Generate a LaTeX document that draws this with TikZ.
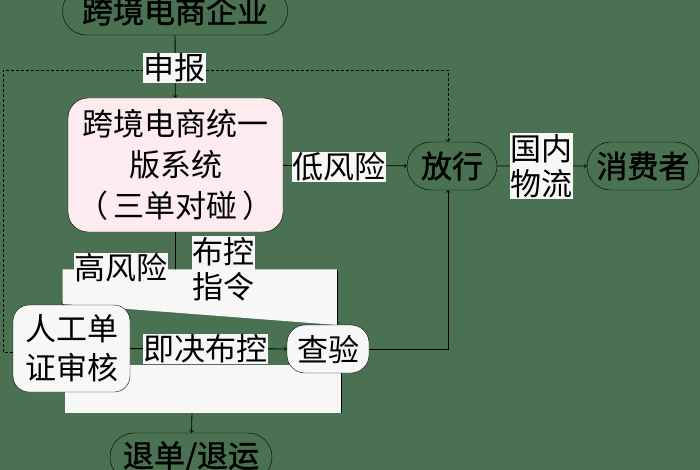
\documentclass[tikz,border=0pt]{standalone}
\usepackage{fontspec}
\setmainfont{Noto Sans CJK SC}
\newfontfamily\termfont{Noto Sans CJK SC}[FakeBold=1.3]
\usetikzlibrary{shapes.misc,backgrounds}
\definecolor{bggreen}{RGB}{74,113,81}
\definecolor{syspink}{RGB}{253,235,239}
\definecolor{paper}{RGB}{247,247,247}
\tikzset{
  term/.style={draw, rounded rectangle, minimum height=48pt, inner sep=0pt, font=\fontsize{31}{35}\termfont},
  box/.style={draw, rectangle, rounded corners=16pt, fill=paper, inner sep=0pt, align=center},
  lbl/.style={fill=paper, inner xsep=0.5pt, inner ysep=1pt, align=center, font=\fontsize{31}{35}\selectfont},
  link/.style={draw, line width=0.8pt, ->},
}
\begin{document}
\begin{tikzpicture}[x=1pt,y=-1pt]
\useasboundingbox (0,0) rectangle (700,470);
\node[term, minimum width=225pt] (firm) at (175,11) {跨境电商企业};
\node[box, fill=syspink, rounded corners=20pt, minimum width=215pt, minimum height=134pt, font=\fontsize{31}{41}\selectfont] (sys) at (175.5,165) {跨境电商统一\\版系统\\（\,三单对碰\,）};
\node[term, minimum width=90pt] (release) at (452,166) {放行};
\node[term, minimum width=112pt] (buyer) at (643,166) {消费者};
\node[box, minimum width=117pt, minimum height=87pt, font=\fontsize{31}{39}\selectfont] (manual) at (71.5,348.5) {人工单\\证审核};
\node[box, rounded corners=18pt, minimum width=82pt, minimum height=48pt, font=\fontsize{31}{35}\selectfont] (check) at (328,349) {查验};
\node[term, minimum width=162pt] (reject) at (191,457) {退单/退运};

\node[lbl] (declare) at (174,68) {申报};
\node[lbl] (low) at (339,167) {低风险};
\node[lbl] (ship) at (541,166) {国内\\物流};
\node[lbl] (high) at (120.5,268) {高风险};
\node[lbl] (order) at (223.5,269) {布控\\指令};
\node[lbl] (instant) at (205.5,349) {即决布控};

\coordinate (split) at (175,270);
\coordinate (merge) at (192,412);
\coordinate (dl) at (3,70);

\begin{pgfonlayer}{background}
\fill[bggreen] (0,0) rectangle (700,470);
\path[link] (firm) -- (sys);
\path[link] (sys) -- (release);
\path[link] (release) -- (buyer);
\path[link] (manual) -- (check);
\path[link] (check) -| ([xshift=-4pt]release.south);
\path[link,densely dashed] (manual.west |- 0,352) -| (dl) -| ([xshift=-4pt]release.north);
\path[link] (sys) |- (split) -| ([xshift=-8pt]manual.north);
\path[link] (split) -| ([xshift=9pt]check.north);
\path[draw,line width=0.8pt] ([xshift=-6pt]manual.south) |- (merge);
\path[draw,line width=0.8pt] ([xshift=13pt]check.south) |- (merge);
\path[link] (merge) -- (reject);
% white patches over the hidden branches
\fill[paper] (62.5,269.4) -- (336.8,269.4) -- (336.8,325) -- (62.5,304) -- cycle;
\fill[paper] (64.5,365) -- (340.6,365) -- (340.6,412.5) -- (64.5,412.5) -- cycle;
\end{pgfonlayer}
\end{tikzpicture}
\end{document}
